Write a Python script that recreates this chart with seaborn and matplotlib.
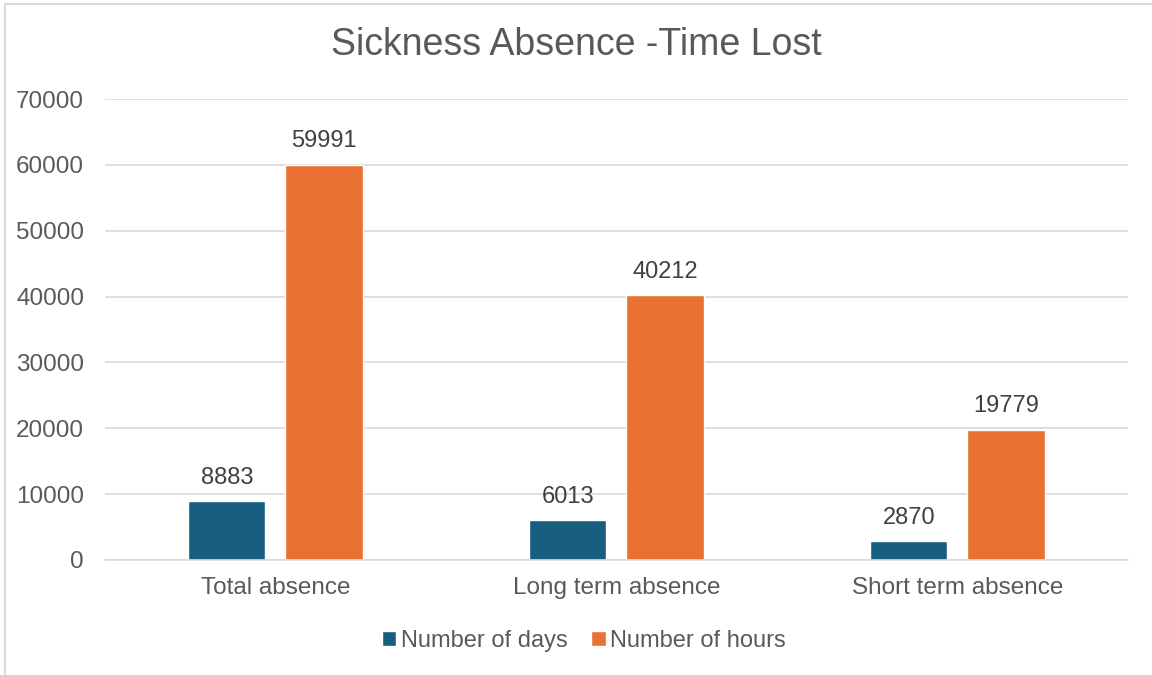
import matplotlib
matplotlib.use("Agg")
import matplotlib.pyplot as plt
import seaborn as sns
import pandas as pd
from matplotlib.patches import Rectangle

# ---- data
categories = ["Total absence", "Long term absence", "Short term absence"]
series = ["Number of days", "Number of hours"]
days = [8883, 6013, 2870]
hours = [59991, 40212, 19779]
y_ticks = [0, 10000, 20000, 30000, 40000, 50000, 60000, 70000]

colors = {"Number of days": "#175E7F", "Number of hours": "#E97132"}
TXT = "#595959"

df = pd.DataFrame({
    "category": categories * 2,
    "series": [series[0]] * 3 + [series[1]] * 3,
    "value": days + hours,
})

sns.set_style("white")
plt.rcParams["font.family"] = ["Liberation Sans", "DejaVu Sans"]

fig = plt.figure(figsize=(11.52, 6.75), dpi=100)
ax = fig.add_axes([0.0911, 0.1704, 0.8880, 0.6829])

sns.barplot(data=df, x="category", y="value", hue="series", order=categories,
            hue_order=series, palette=colors, width=0.571, gap=0.206,
            saturation=1, errorbar=None, ax=ax)

for cont in ax.containers:
    ax.bar_label(cont, labels=[f"{v:.0f}" for v in cont.datavalues],
                 padding=9, fontsize=17, color="#404040")

ax.set_ylim(0, 70000)
ax.set_xlim(-0.5, 2.5)
ax.set_yticks(y_ticks)
ax.set_yticklabels([str(t) for t in y_ticks])
ax.yaxis.grid(True, color="#D9D9D9", linewidth=1.2)
ax.set_axisbelow(True)
for s in ["top", "right", "left"]:
    ax.spines[s].set_visible(False)
ax.spines["bottom"].set_color("#D9D9D9")
ax.spines["bottom"].set_linewidth(1.2)
ax.tick_params(axis="both", length=0, labelsize=17.5, labelcolor=TXT)
ax.tick_params(axis="y", pad=15)
ax.tick_params(axis="x", pad=12)
ax.set_xlabel("")
ax.set_ylabel("")

fig.suptitle("Sickness Absence -Time Lost", y=0.933, va="center",
             fontsize=27, color=TXT)

handles, labels = ax.get_legend_handles_labels()
ax.legend(handles, labels, loc="center", bbox_to_anchor=(0.507, 0.05),
          bbox_transform=fig.transFigure, ncol=2, frameon=False,
          fontsize=17, labelcolor=TXT, handlelength=0.6, handleheight=0.6,
          handletextpad=0.2, columnspacing=1.0)

# outer chart border (left/top visible in reference)
fig.patches.append(Rectangle((0.0045, -0.01), 1.2, 1.004, transform=fig.transFigure,
                             fill=False, edgecolor="#D9D9D9", linewidth=1.5))

fig.savefig("out.png", dpi=100)
